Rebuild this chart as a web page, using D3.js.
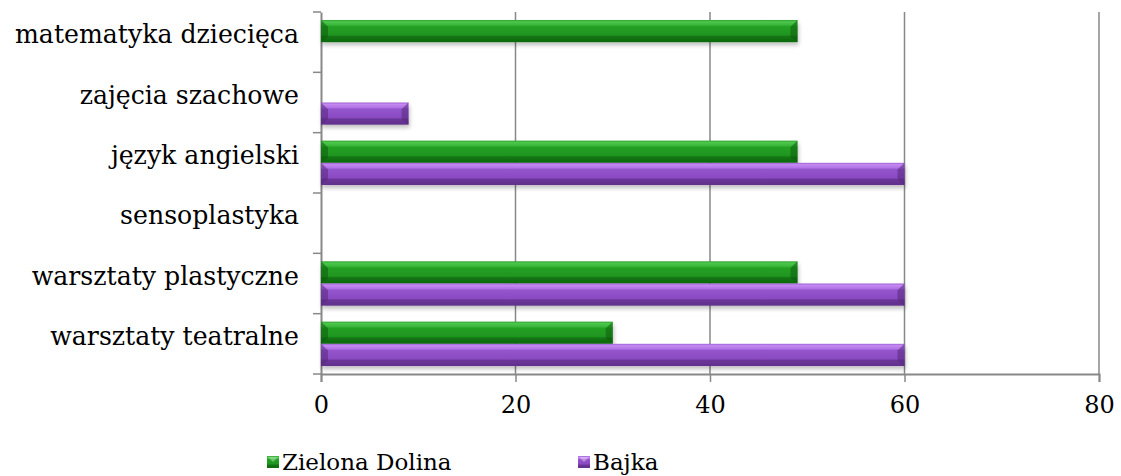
<!DOCTYPE html>
<html><head><meta charset="utf-8">
<script src="https://cdn.jsdelivr.net/npm/d3@7"></script>
<style>body{margin:0;background:#fff}svg{display:block}</style>
</head><body>
<svg id="c" width="1121" height="476"></svg>
<script>
const categories = ["warsztaty teatralne","warsztaty plastyczne","sensoplastyka","język angielski","zajęcia szachowe","matematyka dziecięca"];
const seriesNames = ["Zielona Dolina","Bajka"];
const zielonaDolina = [30,49,0,49,0,49];
const bajka = [60,60,0,60,9,0];
const xTicks = [0,20,40,60,80];

(function(){
const svg = d3.select("#c");
const pL=321,pR=1099,pT=12,pB=374;
const font = "'DejaVu Serif', serif";

const x = d3.scaleLinear().domain([0,80]).range([pL,pR]);
const y = d3.scaleBand().domain(categories.slice().reverse()).range([pT,pB]);
const yInner = d3.scaleBand().domain(seriesNames).range([0,y.bandwidth()]).paddingOuter(0.36).paddingInner(0);

const colors = {
  "Zielona Dolina": {stops:[["0%","#2f9f2f"],["8%","#4cc74c"],["22%","#3ab83a"],["30%","#23a023"],["68%","#1f951f"],["74%","#137313"],["100%","#0f6a0f"]], end:"#0c5c0c"},
  "Bajka": {stops:[["0%","#9c5fd0"],["8%","#c489f2"],["22%","#b274e6"],["30%","#9455cc"],["68%","#8a4bc2"],["74%","#6b3699"],["100%","#61308c"]], end:"#55287c"}
};
const defs = svg.append("defs");
seriesNames.forEach((s,i)=>{
  const g = defs.append("linearGradient").attr("id","g"+i).attr("x1",0).attr("y1",0).attr("x2",0).attr("y2",1);
  colors[s].stops.forEach(st=>g.append("stop").attr("offset",st[0]).attr("stop-color",st[1]));
});
const f = defs.append("filter").attr("id","sh").attr("x","-5%").attr("y","-30%").attr("width","110%").attr("height","180%");
f.append("feGaussianBlur").attr("in","SourceAlpha").attr("stdDeviation",2);
f.append("feOffset").attr("dx",1).attr("dy",3).attr("result","b");
f.append("feComponentTransfer").append("feFuncA").attr("type","linear").attr("slope",0.25);
const m = f.append("feMerge"); m.append("feMergeNode"); m.append("feMergeNode").attr("in","SourceGraphic");

// gridlines
svg.append("g").selectAll("line").data(xTicks.slice(1)).join("line")
  .attr("x1",d=>x(d)).attr("x2",d=>x(d)).attr("y1",pT).attr("y2",pB)
  .attr("stroke","#888").attr("stroke-width",1.5);

// x axis
const xAxis = svg.append("g").attr("transform",`translate(0,${pB})`)
  .call(d3.axisBottom(x).tickValues(xTicks).tickSize(8).tickPadding(14).tickFormat(d3.format("d")));
xAxis.select(".domain").attr("stroke","#888").attr("stroke-width",2);
xAxis.selectAll(".tick line").attr("stroke","#888").attr("stroke-width",1.5);
xAxis.selectAll("text").attr("font-family",font).attr("font-size",24).attr("fill","#000");

// y axis
const yAxis = svg.append("g").attr("transform",`translate(${pL},0)`)
  .call(d3.axisLeft(y).tickSize(0).tickPadding(22));
yAxis.select(".domain").attr("stroke","#888").attr("stroke-width",2);
yAxis.selectAll("text").attr("font-family",font).attr("font-size",25.2).attr("fill","#000").attr("dy","0.05em");
const bounds = d3.range(categories.length+1).map(i=>pT+i*y.step());
yAxis.selectAll(".bt").data(bounds).join("line").attr("class","bt")
  .attr("x1",-8).attr("x2",0).attr("y1",d=>d).attr("y2",d=>d).attr("stroke","#888").attr("stroke-width",1.5);

// bars
const data = [zielonaDolina,bajka];
seriesNames.forEach((s,si)=>{
  const g = svg.append("g");
  categories.forEach((c,ci)=>{
    const v = data[si][ci];
    if(!v) return;
    const x0=x(0), x1=x(v), y0=y(c)+yInner(s), h=yInner.bandwidth(), y1=y0+h;
    const bg = g.append("g").attr("filter","url(#sh)");
    bg.append("rect").attr("x",x0).attr("y",y0).attr("width",x1-x0).attr("height",h).attr("fill",`url(#g${si})`);
    const b=Math.min(h/2, 7);
    bg.append("polygon").attr("points",`${x0},${y0} ${x0+b},${y0+h*0.3} ${x0+b},${y1-h*0.26} ${x0},${y1}`)
      .attr("fill",colors[s].end).attr("opacity",0.55);
    bg.append("polygon").attr("points",`${x1},${y0} ${x1-b},${y0+h*0.3} ${x1-b},${y1-h*0.26} ${x1},${y1}`)
      .attr("fill",colors[s].end).attr("opacity",0.55);
  });
});

// legend
const legX=[267,578], legY=462;
seriesNames.forEach((s,i)=>{
  const g = svg.append("g").attr("transform",`translate(${legX[i]},${legY})`);
  g.append("rect").attr("x",0).attr("y",-6).attr("width",12).attr("height",12).attr("fill",`url(#g${i})`);
  g.append("polygon").attr("points","1,-5 11,-5 6,0").attr("fill","#fff").attr("opacity",0.35);
  g.append("text").attr("x",15).attr("y",8).attr("font-family",font).attr("font-size",23).attr("fill","#000").text(s);
});
})();
</script>
</body></html>
